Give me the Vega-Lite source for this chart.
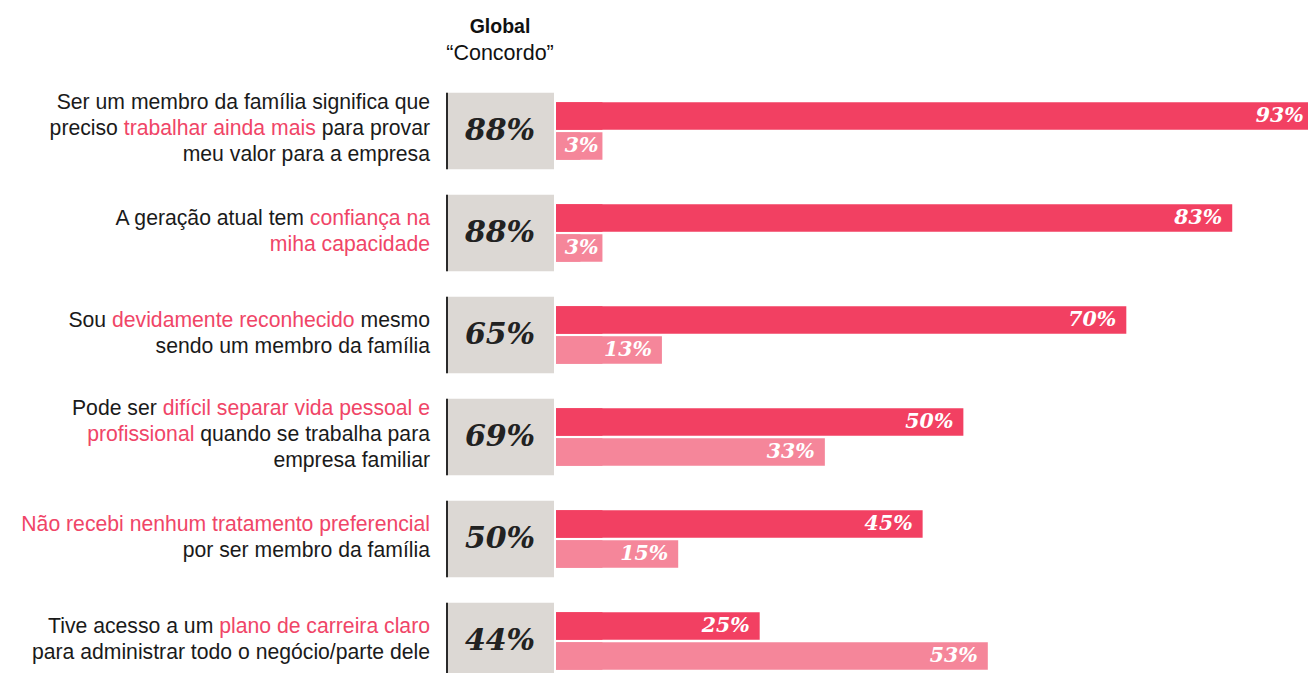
{
  "$schema": "https://vega.github.io/schema/vega-lite/v6.json",
  "padding": {"top": 17, "left": 0, "right": 0, "bottom": 0},
  "background": "white",
  "bounds": "flush",
  "spacing": 16,
  "config": {"view": {"stroke": null}, "font": "Liberation Sans"},
  "datasets": {
    "rows": [
      {"row": 1, "global": 0.88, "lines": "Ser um membro da família significa que\npreciso trabalhar ainda mais para provar\nmeu valor para a empresa", "pink": "\ntrabalhar ainda mais para provar\n", "after": "\npara provar\n"},
      {"row": 2, "global": 0.88, "lines": "A geração atual tem confiança na\nmiha capacidade", "pink": "confiança na\nmiha capacidade", "after": ""},
      {"row": 3, "global": 0.65, "lines": "Sou devidamente reconhecido mesmo\nsendo um membro da família", "pink": "devidamente reconhecido mesmo\n", "after": "mesmo\n"},
      {"row": 4, "global": 0.69, "lines": "Pode ser difícil separar vida pessoal e\nprofissional quando se trabalha para\nempresa familiar", "pink": "difícil separar vida pessoal e\nprofissional quando se trabalha para\n", "after": "\nquando se trabalha para\n"},
      {"row": 5, "global": 0.50, "lines": "Não recebi nenhum tratamento preferencial\npor ser membro da família", "pink": "Não recebi nenhum tratamento preferencial\n", "after": ""},
      {"row": 6, "global": 0.44, "lines": "Tive acesso a um plano de carreira claro\npara administrar todo o negócio/parte dele", "pink": "plano de carreira claro\n", "after": ""}
    ],
    "bars": [
      {"row": 1, "series": "A", "value": 0.93},
      {"row": 1, "series": "B", "value": 0.03},
      {"row": 2, "series": "A", "value": 0.83},
      {"row": 2, "series": "B", "value": 0.03},
      {"row": 3, "series": "A", "value": 0.70},
      {"row": 3, "series": "B", "value": 0.13},
      {"row": 4, "series": "A", "value": 0.50},
      {"row": 4, "series": "B", "value": 0.33},
      {"row": 5, "series": "A", "value": 0.45},
      {"row": 5, "series": "B", "value": 0.15},
      {"row": 6, "series": "A", "value": 0.25},
      {"row": 6, "series": "B", "value": 0.53}
    ]
  },
  "hconcat": [
    {
      "width": 430,
      "height": 612,
      "data": {"name": "rows"},
      "encoding": {
        "y": {"field": "row", "type": "ordinal", "axis": null, "scale": {"type": "band", "paddingInner": 0, "paddingOuter": 0}},
        "x": {"datum": 1, "type": "quantitative", "scale": {"domain": [0, 1]}, "axis": null}
      },
      "layer": [
        {
          "transform": [{"filter": "length(split(datum.lines, '\\n')) == 3"}],
          "layer": [
            {"mark": {"type": "text", "align": "right", "baseline": "middle", "dy": -28, "lineBreak": "\n", "lineHeight": 26, "fontSize": 21.2, "font": "Liberation Sans", "color": "#1a1a1a"}, "encoding": {"text": {"field": "lines", "type": "nominal"}}},
            {"mark": {"type": "text", "align": "right", "baseline": "middle", "dy": -28, "lineBreak": "\n", "lineHeight": 26, "fontSize": 21.2, "font": "Liberation Sans", "color": "white", "stroke": "white", "strokeWidth": 3}, "encoding": {"text": {"field": "pink", "type": "nominal"}}},
            {"mark": {"type": "text", "align": "right", "baseline": "middle", "dy": -28, "lineBreak": "\n", "lineHeight": 26, "fontSize": 21.2, "font": "Liberation Sans", "color": "#f04567"}, "encoding": {"text": {"field": "pink", "type": "nominal"}}},
            {"mark": {"type": "text", "align": "right", "baseline": "middle", "dy": -28, "lineBreak": "\n", "lineHeight": 26, "fontSize": 21.2, "font": "Liberation Sans", "color": "white", "stroke": "white", "strokeWidth": 3}, "encoding": {"text": {"field": "after", "type": "nominal"}}},
            {"mark": {"type": "text", "align": "right", "baseline": "middle", "dy": -28, "lineBreak": "\n", "lineHeight": 26, "fontSize": 21.2, "font": "Liberation Sans", "color": "#1a1a1a"}, "encoding": {"text": {"field": "after", "type": "nominal"}}}
          ]
        },
        {
          "transform": [{"filter": "length(split(datum.lines, '\\n')) == 2"}],
          "layer": [
            {"mark": {"type": "text", "align": "right", "baseline": "middle", "dy": -14, "lineBreak": "\n", "lineHeight": 26, "fontSize": 21.2, "font": "Liberation Sans", "color": "#1a1a1a"}, "encoding": {"text": {"field": "lines", "type": "nominal"}}},
            {"mark": {"type": "text", "align": "right", "baseline": "middle", "dy": -14, "lineBreak": "\n", "lineHeight": 26, "fontSize": 21.2, "font": "Liberation Sans", "color": "white", "stroke": "white", "strokeWidth": 3}, "encoding": {"text": {"field": "pink", "type": "nominal"}}},
            {"mark": {"type": "text", "align": "right", "baseline": "middle", "dy": -14, "lineBreak": "\n", "lineHeight": 26, "fontSize": 21.2, "font": "Liberation Sans", "color": "#f04567"}, "encoding": {"text": {"field": "pink", "type": "nominal"}}},
            {"mark": {"type": "text", "align": "right", "baseline": "middle", "dy": -14, "lineBreak": "\n", "lineHeight": 26, "fontSize": 21.2, "font": "Liberation Sans", "color": "white", "stroke": "white", "strokeWidth": 3}, "encoding": {"text": {"field": "after", "type": "nominal"}}},
            {"mark": {"type": "text", "align": "right", "baseline": "middle", "dy": -14, "lineBreak": "\n", "lineHeight": 26, "fontSize": 21.2, "font": "Liberation Sans", "color": "#1a1a1a"}, "encoding": {"text": {"field": "after", "type": "nominal"}}}
          ]
        }
      ]
    },
    {
      "bounds": "flush",
      "spacing": 2,
      "hconcat": [
        {
          "width": 108,
          "height": 612,
          "title": {"text": "Global", "subtitle": "“Concordo”", "fontSize": 19.5, "fontWeight": "bold", "font": "Liberation Sans", "color": "#111111", "subtitleFont": "Liberation Sans", "subtitleFontSize": 21.5, "subtitleColor": "#111111", "anchor": "middle", "offset": 15, "subtitlePadding": 5},
          "data": {"name": "rows"},
          "encoding": {
            "y": {"field": "row", "type": "ordinal", "axis": null, "scale": {"type": "band", "paddingInner": 0, "paddingOuter": 0}}
          },
          "layer": [
            {"mark": {"type": "bar", "color": "#dcd8d4", "height": {"band": 0.75}}, "encoding": {"x": {"datum": 0, "type": "quantitative", "scale": {"domain": [0, 1]}, "axis": null}, "x2": {"datum": 1}}},
            {"mark": {"type": "bar", "color": "#2a2a2a", "height": {"band": 0.75}}, "encoding": {"x": {"datum": 0, "type": "quantitative"}, "x2": {"datum": 0.0185}}},
            {"mark": {"type": "text", "baseline": "middle", "font": "DejaVu Serif", "fontStyle": "italic", "fontWeight": "bold", "fontSize": 30, "color": "#222222"}, "encoding": {"x": {"datum": 0.5, "type": "quantitative"}, "text": {"field": "global", "type": "quantitative", "format": ".0%"}}}
          ]
        },
        {
          "width": 752,
          "height": 612,
          "data": {"name": "bars"},
          "encoding": {
            "y": {"field": "row", "type": "ordinal", "axis": null, "scale": {"type": "band", "paddingInner": 0, "paddingOuter": 0}},
            "yOffset": {"field": "series", "type": "nominal", "scale": {"paddingInner": 0.083, "paddingOuter": 0.742}},
            "color": {"field": "series", "type": "nominal", "scale": {"domain": ["A", "B"], "range": ["#f24062", "#f5869a"]}, "legend": null}
          },
          "layer": [
            {"mark": {"type": "bar", "clip": true}, "encoding": {"x": {"datum": 0.057, "type": "quantitative", "scale": {"domain": [0, 0.923], "nice": false, "zero": true}, "axis": null}}},
            {"mark": {"type": "bar", "clip": true}, "encoding": {"x": {"field": "value", "type": "quantitative"}}},
            {"transform": [{"filter": "datum.value >= 0.06"}], "mark": {"type": "text", "align": "right", "baseline": "middle", "dx": -10, "font": "DejaVu Serif", "fontStyle": "italic", "fontWeight": "bold", "fontSize": 20.5}, "encoding": {"x": {"field": "value", "type": "quantitative"}, "text": {"field": "value", "type": "quantitative", "format": ".0%"}, "color": {"value": "white"}}},
            {"transform": [{"filter": "datum.value < 0.06"}], "mark": {"type": "text", "align": "right", "baseline": "middle", "dx": -4, "font": "DejaVu Serif", "fontStyle": "italic", "fontWeight": "bold", "fontSize": 20.5}, "encoding": {"x": {"datum": 0.057, "type": "quantitative"}, "text": {"field": "value", "type": "quantitative", "format": ".0%"}, "color": {"value": "white"}}}
          ]
        }
      ]
    }
  ]
}
